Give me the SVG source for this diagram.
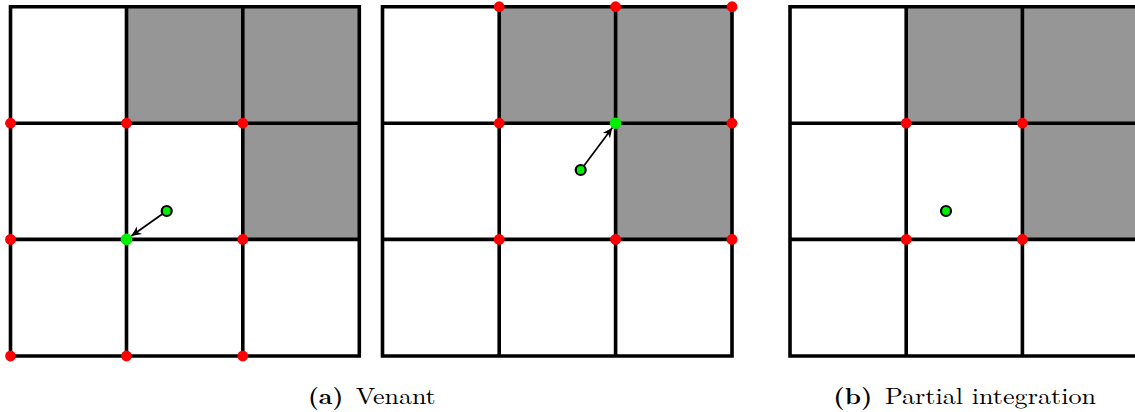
<svg xmlns="http://www.w3.org/2000/svg" width="1135" height="412" viewBox="0 0 1135 412">
<style>
.cell{fill:#969696;stroke:none}
.grid{stroke:#000;stroke-width:3.6;fill:none;stroke-linecap:square}
.red{fill:#ff0000}
.gv{fill:#00ee00}
.gp{fill:#00ee00;stroke:#000;stroke-width:2.2}
.arr{stroke:#000;stroke-width:1.7;fill:none}
.cap{font-family:"Latin Modern Roman","Liberation Serif",serif;font-size:22.5px;fill:#000}
</style>
<defs>
<marker id="ah" markerUnits="userSpaceOnUse" markerWidth="14" markerHeight="12" viewBox="-11 -6 12 12" refX="0" refY="0" orient="auto">
<path d="M0,0 L-10,-4.5 L-7,0 L-10,4.5 Z" fill="#000"/>
</marker>
</defs>
<rect x="0" y="0" width="1135" height="412" fill="#fff"/>

<g id="panel-a">
<rect class="cell" x="126.5" y="6.7" width="232.8" height="116.5"/>
<rect class="cell" x="242.8" y="123.2" width="116.5" height="116.2"/>
<path class="grid" d="M10.5,6.7H359.3V356H10.5Z M126.5,6.7V356 M242.8,6.7V356 M10.5,123.2H359.3 M10.5,239.4H359.3"/>
</g>
<g id="panel-b">
<rect class="cell" x="499.2" y="6.7" width="232.8" height="116.5"/>
<rect class="cell" x="615.6" y="123.2" width="116.4" height="116.2"/>
<path class="grid" d="M382.5,6.7H732V356H382.5Z M499.2,6.7V356 M615.6,6.7V356 M382.5,123.2H732 M382.5,239.4H732"/>
</g>
<g id="panel-c">
<rect class="cell" x="906.2" y="6.7" width="232.8" height="116.5"/>
<rect class="cell" x="1022.4" y="123.2" width="116.4" height="116.2"/>
<path class="grid" d="M790,6.7H1138.8V356H790Z M906.2,6.7V356 M1022.4,6.7V356 M790,123.2H1138.8 M790,239.4H1138.8"/>
</g>

<g id="nodes-a">
<circle class="red" cx="10.5" cy="123.2" r="5.4"/>
<circle class="red" cx="126.5" cy="123.2" r="5.4"/>
<circle class="red" cx="242.8" cy="123.2" r="5.4"/>
<circle class="red" cx="10.5" cy="239.4" r="5.4"/>
<circle class="red" cx="242.8" cy="239.4" r="5.4"/>
<circle class="red" cx="10.5" cy="356" r="5.4"/>
<circle class="red" cx="126.5" cy="356" r="5.4"/>
<circle class="red" cx="242.8" cy="356" r="5.4"/>
<circle id="target-a" class="gv" cx="126.5" cy="239.4" r="5.8"/>
<circle id="point-a" class="gp" cx="166.7" cy="211" r="5"/>
</g>
<g id="nodes-b">
<circle class="red" cx="499.2" cy="6.7" r="5.4"/>
<circle class="red" cx="615.6" cy="6.7" r="5.4"/>
<circle class="red" cx="732" cy="6.7" r="5.4"/>
<circle class="red" cx="499.2" cy="123.2" r="5.4"/>
<circle class="red" cx="732" cy="123.2" r="5.4"/>
<circle class="red" cx="499.2" cy="239.4" r="5.4"/>
<circle class="red" cx="615.6" cy="239.4" r="5.4"/>
<circle class="red" cx="732" cy="239.4" r="5.4"/>
<circle id="target-b" class="gv" cx="615.6" cy="123.2" r="5.8"/>
<circle id="point-b" class="gp" cx="580.7" cy="170" r="5"/>
</g>
<g id="nodes-c">
<circle class="red" cx="906.2" cy="123.2" r="5.4"/>
<circle class="red" cx="1022.4" cy="123.2" r="5.4"/>
<circle class="red" cx="906.2" cy="239.4" r="5.4"/>
<circle class="red" cx="1022.4" cy="239.4" r="5.4"/>
<circle id="point-c" class="gp" cx="946" cy="211" r="5"/>
</g>

<g id="connectors">
<line class="arr" x1="162.4" y1="214" x2="131.3" y2="236" marker-end="url(#ah)"/>
<line class="arr" x1="583.8" y1="165.9" x2="612.3" y2="127.7" marker-end="url(#ah)"/>
</g>

<g id="captions">
<text class="cap" y="404"><tspan x="308" font-weight="bold" textLength="35.3" lengthAdjust="spacingAndGlyphs">(a)</tspan><tspan x="355.7" textLength="80" lengthAdjust="spacingAndGlyphs">Venant</tspan></text>
<text class="cap" y="404"><tspan x="833.3" font-weight="bold" textLength="39" lengthAdjust="spacingAndGlyphs">(b)</tspan><tspan x="885" textLength="211" lengthAdjust="spacingAndGlyphs">Partial integration</tspan></text>
</g>
</svg>
